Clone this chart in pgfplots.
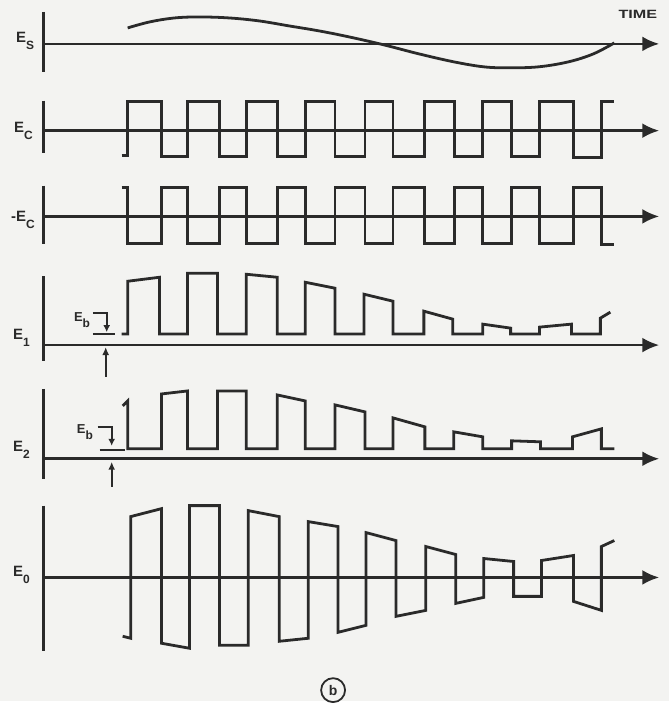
\documentclass[border=0pt]{standalone}
\usepackage{fontspec}
\setmainfont{Liberation Sans}
\usepackage{pgfplots}
\pgfplotsset{compat=1.18}
\usetikzlibrary{arrows.meta}
\definecolor{ink}{HTML}{2A2A2A}
\definecolor{paper}{HTML}{F3F3F1}
\newcommand{\sub}[1]{\raisebox{-7pt}{\fontsize{12}{12}\selectfont #1}}
\newcommand{\subb}[1]{\raisebox{-6pt}{\fontsize{12}{12}\selectfont #1}}
\tikzset{
  axline/.style={line width=2.6pt, -{Latex[length=17pt,width=15pt]}},
  lab/.style={ink, anchor=base west, inner sep=0pt, font=\fontsize{15}{15}\selectfont\bfseries},
  labb/.style={ink, anchor=base west, inner sep=0pt, font=\fontsize{13}{13}\selectfont\bfseries},
}
\begin{document}
\begin{tikzpicture}
\begin{axis}[
  width=671pt, height=703pt, scale only axis,
  xmin=0, xmax=671, ymin=0, ymax=703, y dir=reverse,
  hide axis, clip=false,
  cycle list={{ink, solid}},
  every axis plot/.append style={ink, solid, line width=2.8pt, line join=miter, no markers},
]
\fill[paper] (rel axis cs:0,0) rectangle (rel axis cs:1,1);

% ---------- E_S ----------
\addplot coordinates {(44,12) (44,72)};
\addplot[axline] coordinates {(44,44) (661,44)};
\addplot[smooth, tension=0.6] coordinates {(128,28) (150,22) (175,18) (200,17) (230,18) (260,21) (290,26) (320,31) (350,37) (385,45) (420,54) (455,62) (485,67) (510,68) (540,67) (570,62) (595,54) (616,43)};
\node[lab] at (axis cs:16,43) {E\sub{S}};
\node[lab, font=\fontsize{12}{12}\selectfont\bfseries] at (axis cs:620,19) {\scalebox{1.35}[1]{TIME}};

% ---------- E_C ----------
\addplot coordinates {(44,101) (44,153)};
\addplot[axline] coordinates {(44,131) (661,131)};
\addplot coordinates {(122,156) (128,156) (128,102) (162,102) (162,157) (188,157) (188,102) (220,102) (220,157) (247,157) (247,102) (278,102) (278,157) (306,157) (306,102) (336,102) (336,157) (366,157) (366,102) (394,102) (394,157) (426,157) (426,102) (456,102) (456,157) (484,157) (484,102) (513,102) (513,157) (541,157) (541,102) (575,102) (575,158) (603,158) (603,102) (616,102)};
\node[lab] at (axis cs:14,133) {E\sub{C}};

% ---------- -E_C ----------
\addplot coordinates {(44,186) (44,245)};
\addplot[axline] coordinates {(44,217) (661,217)};
\addplot coordinates {(122,188) (128,188) (128,244) (162,244) (162,188) (188,188) (188,244) (220,244) (220,188) (247,188) (247,244) (278,244) (278,188) (306,188) (306,244) (336,244) (336,188) (366,188) (366,244) (394,244) (394,188) (426,188) (426,244) (456,244) (456,188) (484,188) (484,244) (513,244) (513,188) (541,188) (541,244) (575,244) (575,188) (603,188) (603,245) (616,245)};
\node[lab] at (axis cs:11,222) {-E\sub{C}};

% ---------- E_1 ----------
\addplot coordinates {(44,277) (44,362)};
\addplot[axline] coordinates {(44,346) (661,346)};
\addplot coordinates {(122,335) (128,335) (128,282) (160,278) (160,335) (188,335) (188,274) (218,274) (218,335) (247,335) (247,275) (278,278) (278,335) (306,335) (306,283) (336,289) (336,335) (365,335) (365,295) (394,302) (394,335) (425,335) (425,312) (454,320) (454,335) (484,335) (484,325) (512,329) (512,335) (541,335) (541,328) (573,325) (573,335) (602,335) (602,319) (612,313)};
\node[lab] at (axis cs:13,340) {E\sub{1}};
% Eb marker
\addplot[line width=2.2pt] coordinates {(93,314) (107,314) (107,326)};
\addplot[line width=2.2pt, -{Latex[length=7pt,width=7pt]}] coordinates {(107,322) (107,333)};
\addplot[line width=2.2pt] coordinates {(93,335) (115,335)};
\addplot[line width=2.2pt, -{Latex[length=8pt,width=7pt]}] coordinates {(106,378) (106,348)};
\node[labb] at (axis cs:74,322) {E\subb{b}};

% ---------- E_2 ----------
\addplot coordinates {(44,390) (44,480)};
\addplot[axline] coordinates {(44,460) (661,460)};
\addplot coordinates {(123,407) (128,402) (128,450) (162,450) (162,395) (188,392) (188,450) (218,450) (218,392) (247,392) (247,450) (278,450) (278,396) (306,402) (306,450) (336,450) (336,406) (366,413) (366,450) (394,450) (394,419) (426,428) (426,450) (455,450) (455,433) (484,438) (484,450) (513,450) (513,442) (542,443) (542,450) (574,450) (574,438) (603,430) (603,450) (616,450)};
\node[lab] at (axis cs:13,453) {E\sub{2}};
% Eb marker
\addplot[line width=2.2pt] coordinates {(98,428) (112,428) (112,438)};
\addplot[line width=2.2pt, -{Latex[length=7pt,width=7pt]}] coordinates {(112,436) (112,447)};
\addplot[line width=2.2pt] coordinates {(100,451) (125,451)};
\addplot[line width=2.2pt, -{Latex[length=8pt,width=7pt]}] coordinates {(112,488) (112,463)};
\node[labb] at (axis cs:77,435) {E\subb{b}};

% ---------- E_0 ----------
\addplot coordinates {(44,507) (44,653)};
\addplot[axline] coordinates {(44,579) (661,579)};
\addplot coordinates {(123,638) (131,640) (131,518) (162,510) (162,645) (190,650) (190,507) (220,507) (220,647) (249,647) (249,512) (280,518) (280,643) (309,640) (309,523) (339,528) (339,634) (367,627) (367,534) (397,542) (397,618) (427,612) (427,548) (457,556) (457,605) (485,599) (485,560) (515,563) (515,598) (543,598) (543,562) (575,557) (575,603) (603,612) (603,548) (616,542)};
\node[lab] at (axis cs:13,578) {E\sub{0}};

% ---------- (b) ----------
\node[ink, draw, circle, line width=1.8pt, minimum size=24pt, inner sep=0pt, font=\fontsize{14}{14}\selectfont\bfseries] at (axis cs:334,692) {b};
\end{axis}
\end{tikzpicture}
\end{document}
